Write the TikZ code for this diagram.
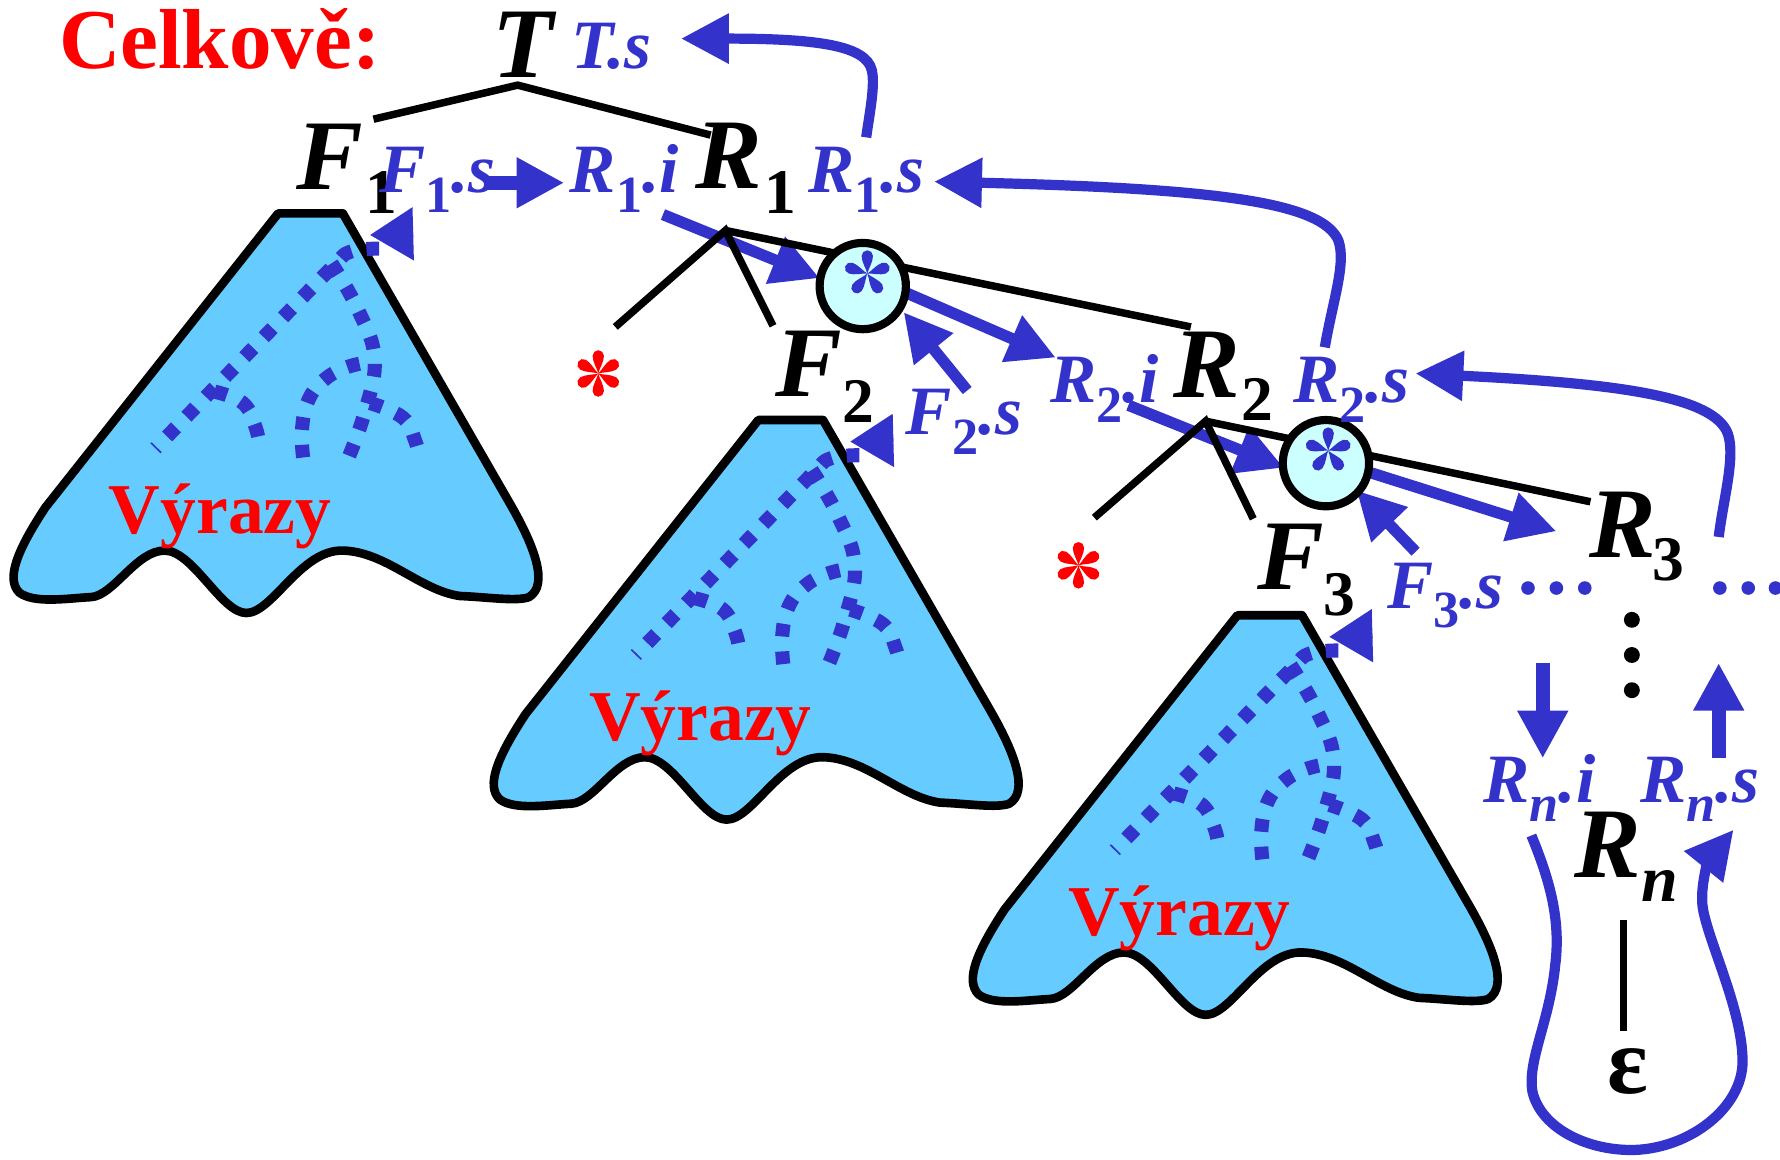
\documentclass[tikz,border=0pt]{standalone}
\usepackage{fontspec}
\setmainfont{Liberation Serif}
\usetikzlibrary{arrows.meta}
\definecolor{bl}{RGB}{51,51,204}
\definecolor{trifill}{RGB}{102,204,255}
\definecolor{circfill}{RGB}{204,255,255}
\newcommand\bsub[1]{\raisebox{-8.5pt}{\fontsize{23}{23}\selectfont\upshape #1}}
\tikzset{
 txt/.style={anchor=base west, inner sep=0pt, outer sep=0pt},
 blk/.style={txt, font=\fontsize{44}{44}\selectfont\bfseries\itshape},
 blksub/.style={txt, font=\fontsize{28}{28}\selectfont\bfseries},
 blu/.style={txt, text=bl, font=\fontsize{30.5}{30.5}\selectfont\bfseries\itshape},
 vyr/.style={txt, text=red, font=\fontsize{31.5}{31.5}\selectfont\bfseries},
 tree/.style={line width=3.3pt},
 barrow/.style={draw=bl, line width=5pt, -{Triangle[length=21pt,width=21pt]}},
 farrow/.style={draw=bl, line width=6pt, -{Triangle[length=21pt,width=21pt]}},
 carrow/.style={draw=bl, line width=4.5pt, -{Triangle[length=21pt,width=21pt]}},
 sarrow/.style={draw=bl, line width=2pt, -{Triangle[length=19pt,width=23pt]}},
 dotl/.style={draw=bl, line width=6.2pt, dash pattern=on 5.6pt off 6.6pt},
 mount/.style={draw=black, line width=3.8pt, fill=trifill, line join=round},
 opc/.style={circle, draw, line width=3.6pt, fill=circfill, minimum size=38pt, inner sep=0pt},
 petal/.pic={\fill (0,0) .. controls (4,0.8) and (10,5) .. (15.5,5) arc(90:-90:5) .. controls (10,-5) and (4,-0.8) .. (0,0);},
 asterA/.pic={\foreach \a in {30,90,...,330} {\pic[rotate=\a] {petal};}},
 asterB/.pic={\foreach \a in {90,162,...,378} {\pic[rotate=\a] {petal};}},
}
\begin{document}
\begin{tikzpicture}[x=0.5pt,y=-0.5pt]
\useasboundingbox (0,0) rectangle (1568,1021);

% mountains with dotted subtrees
\foreach \dx/\dy/\nm in {0/0/1, 423/182/2, 845/354/3} {
 \begin{scope}[shift={(\dx,\dy)}]
  \draw[mount] (245,188) -- (302,188) -- (450,445) .. controls (470,480) and (484,515) .. (466,526) .. controls (455,530) and (430,526) .. (405,525) .. controls (370,520) and (340,486) .. (302,485) .. controls (265,484) and (240,540) .. (217,540) .. controls (195,540) and (170,485) .. (145,485) .. controls (120,485) and (100,525) .. (80,526) .. controls (60,527) and (30,532) .. (17,522) .. controls (5,510) and (15,485) .. (40,447) -- cycle;
  \draw[dotl] plot[smooth, tension=0.6] coordinates {(334,219) (308,222) (290,238) (212,318) (137,395)};
  \draw[dotl] plot[smooth, tension=0.7] coordinates {(292,232) (315,272) (330,316) (321,364) (305,408)};
  \draw[dotl] plot[smooth, tension=0.7] coordinates {(189,345) (214,355) (225,376) (229,395)};
  \draw[dotl] plot[smooth, tension=0.7] coordinates {(267,403) (266,379) (271,354) (284,336) (304,324) (329,318)};
  \draw[dotl] plot[smooth, tension=0.7] coordinates {(326,355) (355,368) (366,389) (369,402)};
  \node[vyr] (vyr\nm) at (96,470) {Výrazy};
  \coordinate (hb\nm) at (364,206);
  \coordinate (ht\nm) at (326,207);
  \draw[sarrow] (hb\nm) -- (ht\nm);
 \end{scope}
}

% blue arrows (under tree lines)
\coordinate (a1s) at (584,189); \coordinate (a1t) at (722,245);
\coordinate (a2s) at (796,257); \coordinate (a2t) at (930,315);
\coordinate (a3s) at (852,344); \coordinate (a3t) at (796,275);
\coordinate (a4s) at (994,357); \coordinate (a4t) at (1131,412);
\coordinate (a5s) at (1206,416); \coordinate (a5t) at (1371,468);
\coordinate (a6s) at (1247,486); \coordinate (a6t) at (1195,432);
\draw[barrow] (a1s) -- (a1t);
\draw[barrow] (a2s) -- (a2t);
\draw[barrow] (a3s) -- (a3t);
\draw[barrow] (a4s) -- (a4t);
\draw[barrow] (a5s) -- (a5t);
\draw[barrow] (a6s) -- (a6t);

% tree lines
\coordinate (tap) at (456,75);
\coordinate (tl) at (329,105); \coordinate (tr) at (626,119);
\draw[tree] (tl) -- (tap) -- (tr);
\coordinate (r1ap) at (639,203);
\coordinate (r1a) at (542,288); \coordinate (r1b) at (681,287); \coordinate (r1c) at (1049,288);
\draw[tree] (r1a) -- (r1ap) -- (r1b);
\draw[tree] (r1ap) -- (r1c);
\coordinate (r2ap) at (1062,371);
\coordinate (r2a) at (964,456); \coordinate (r2b) at (1104,457); \coordinate (r2c) at (1401,442);
\draw[tree] (r2a) -- (r2ap) -- (r2b);
\draw[tree] (r2ap) -- (r2c);

% circles
\node[opc] (c1) at (760,252) {};
\node[opc] (c2) at (1168,408) {};
\pic[bl, scale=0.88] at (764,241) {asterB};
\pic[bl, scale=0.88] at (1170,397) {asterB};
\pic[red] at (527,329) {asterA};
\pic[red] at (950,498) {asterA};

% texts
\node[txt, text=red, font=\fontsize{37.5}{37.5}\selectfont\bfseries] (celk) at (52,60) {Celkově:};
\node[blk] (T) at (434,68) {T};
\node[blu] (Ts) at (503,60) {T.s};
\node[blk] (F1) at (261,167) {F};
\node[blksub] (F1n) at (322,188) {1};
\node[blu] (F1s) at (334,170) {F\bsub{1}.s};
\node[blu] (R1i) at (502,170) {R\bsub{1}.i};
\node[blk] (R1) at (613,166) {R};
\node[blksub] (R1n) at (673,188) {1};
\node[blu] (R1s) at (712,170) {R\bsub{1}.s};
\node[blk] (F2) at (683,349) {F};
\node[blksub] (F2n) at (742,372) {2};
\node[blu] (F2s) at (798,383) {F\bsub{2}.s};
\node[blu] (R2i) at (925,355) {R\bsub{2}.i};
\node[blk] (R2) at (1034,350) {R};
\node[blksub] (R2n) at (1094,370) {2};
\node[blu] (R2s) at (1139,355) {R\bsub{2}.s};
\node[blk] (F3) at (1108,519) {F};
\node[blksub] (F3n) at (1166,542) {3};
\node[blu] (F3s) at (1222,536) {F\bsub{3}.s};
\node[blk] (R3) at (1400,491) {R};
\node[blksub] (R3n) at (1456,511) {3};
\node[blu] (Rni) at (1307,707) {R\bsub{\itshape n}.i};
\node[blu] (Rns) at (1445,707) {R\bsub{\itshape n}.s};
\node[blk] (Rn) at (1387,773) {R};
\node[txt, font=\fontsize{29}{29}\selectfont\bfseries\itshape] (Rnn) at (1446,794) {n};
\node[anchor=base, inner sep=0pt, font=\fontsize{42}{42}\selectfont\bfseries] (eps) at (1434,963) {ε};

% F1.s -> R1.i
\coordinate (fa) at (426,161); \coordinate (fb) at (497,161);
\draw[farrow] (fa) -- (fb);

% curved arrows
\coordinate (k1s) at (763,121); \coordinate (k1t) at (600,34);
\draw[carrow] (k1s) .. controls (766,100) and (771,75) .. (768,62) .. controls (763,40) and (720,34) .. (k1t);
\coordinate (k2s) at (1167,306); \coordinate (k2t) at (823,160);
\draw[carrow] (k2s) .. controls (1174,265) and (1186,232) .. (1179,212) .. controls (1165,178) and (1070,166) .. (k2t);
\coordinate (k3s) at (1514,473); \coordinate (k3t) at (1247,329);
\draw[carrow] (k3s) .. controls (1518,440) and (1529,402) .. (1522,382) .. controls (1510,350) and (1430,338) .. (k3t);
\coordinate (k4s) at (1349,736); \coordinate (k4t) at (1527,731);
\draw[carrow] (k4s) .. controls (1365,775) and (1375,810) .. (1370,850) .. controls (1365,900) and (1345,935) .. (1350,962) .. controls (1358,995) and (1400,1014) .. (1440,1013) .. controls (1490,1011) and (1535,975) .. (1535,935) .. controls (1535,890) and (1505,830) .. (1500,800) .. controls (1497,780) and (1506,757) .. (k4t);

% down / up arrows
\coordinate (d1) at (1359,584); \coordinate (d2) at (1359,668);
\draw[farrow] (d1) -- (d2);
\coordinate (u1) at (1514,668); \coordinate (u2) at (1514,584);
\draw[farrow] (u1) -- (u2);

% epsilon edge
\coordinate (e1) at (1430,810); \coordinate (e2) at (1430,908);
\draw[tree] (e1) -- (e2);

% dots
\foreach \x in {1346,1371,1396,1515,1540,1564} \fill[bl] (\x,518) circle[radius=6];
\foreach \y in {546,577,608} \fill[black] (1437.5,\y) circle[radius=7];
\end{tikzpicture}
\end{document}
